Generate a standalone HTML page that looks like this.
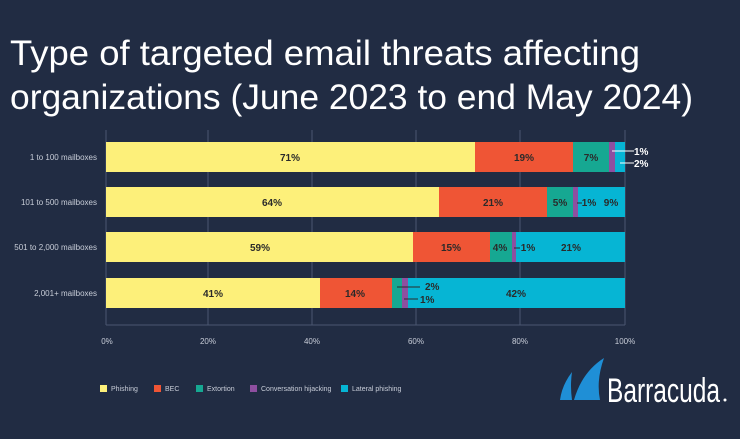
<!DOCTYPE html>
<html><head><style>
body{margin:0;width:740px;height:434px;background:#212c43;overflow:hidden;font-family:"Liberation Sans",sans-serif}
</style></head><body>
<svg width="740" height="434" xmlns="http://www.w3.org/2000/svg" font-family="Liberation Sans, sans-serif">
<rect width="740" height="434" fill="#212c43"/>
<text x="10" y="65" fill="#fff" font-size="35" textLength="630" lengthAdjust="spacingAndGlyphs">Type of targeted email threats affecting</text>
<text x="10" y="109" fill="#fff" font-size="35" textLength="683" lengthAdjust="spacingAndGlyphs">organizations (June 2023 to end May 2024)</text>
<g stroke="#4a5670" stroke-width="1">
<line x1="208" y1="130" x2="208" y2="325"/><line x1="312" y1="130" x2="312" y2="325"/>
<line x1="416" y1="130" x2="416" y2="325"/><line x1="520" y1="130" x2="520" y2="325"/>
<line x1="625" y1="130" x2="625" y2="325"/>
<line x1="106" y1="130" x2="106" y2="325"/><line x1="106" y1="325" x2="625" y2="325"/>
</g>
<g font-size="8" fill="#c8cdd8" text-anchor="end">
<text x="97" y="160">1 to 100 mailboxes</text>
<text x="97" y="205">101 to 500 mailboxes</text>
<text x="97" y="250">501 to 2,000 mailboxes</text>
<text x="97" y="296">2,001+ mailboxes</text>
</g>
<g font-size="8" fill="#c8cdd8" text-anchor="middle">
<text x="107" y="344">0%</text><text x="208" y="344">20%</text><text x="312" y="344">40%</text>
<text x="416" y="344">60%</text><text x="520" y="344">80%</text><text x="625" y="344">100%</text>
</g>
<rect x="106" y="142" width="369" height="30" fill="#fdf07a"/>
<rect x="475" y="142" width="98" height="30" fill="#ef5535"/>
<rect x="573" y="142" width="36" height="30" fill="#16a892"/>
<rect x="609" y="142" width="6" height="30" fill="#8e4fa0"/>
<rect x="615" y="142" width="10" height="30" fill="#06b5d4"/>
<rect x="106" y="187" width="333" height="30" fill="#fdf07a"/>
<rect x="439" y="187" width="108" height="30" fill="#ef5535"/>
<rect x="547" y="187" width="26" height="30" fill="#16a892"/>
<rect x="573" y="187" width="5" height="30" fill="#8e4fa0"/>
<rect x="578" y="187" width="47" height="30" fill="#06b5d4"/>
<rect x="106" y="232" width="307" height="30" fill="#fdf07a"/>
<rect x="413" y="232" width="77" height="30" fill="#ef5535"/>
<rect x="490" y="232" width="22" height="30" fill="#16a892"/>
<rect x="512" y="232" width="4" height="30" fill="#8e4fa0"/>
<rect x="516" y="232" width="109" height="30" fill="#06b5d4"/>
<rect x="106" y="278" width="214" height="30" fill="#fdf07a"/>
<rect x="320" y="278" width="72" height="30" fill="#ef5535"/>
<rect x="392" y="278" width="10" height="30" fill="#16a892"/>
<rect x="402" y="278" width="6" height="30" fill="#8e4fa0"/>
<rect x="408" y="278" width="217" height="30" fill="#06b5d4"/>
<g font-size="10" font-weight="bold" fill="#2a2a2a" text-anchor="middle">
<text x="290" y="161">71%</text><text x="524" y="161">19%</text><text x="591" y="161">7%</text>
<text x="272" y="206">64%</text><text x="493" y="206">21%</text><text x="560" y="206">5%</text><text x="589" y="206">1%</text><text x="611" y="206">9%</text>
<text x="260" y="251">59%</text><text x="451" y="251">15%</text><text x="500" y="251">4%</text><text x="528" y="251">1%</text><text x="571" y="251">21%</text>
<text x="213" y="297">41%</text><text x="355" y="297">14%</text><text x="516" y="297">42%</text>
<text x="425" y="290" text-anchor="start">2%</text><text x="420" y="303" text-anchor="start">1%</text>
</g>
<g stroke="#fff" stroke-width="1"><line x1="612" y1="151" x2="634" y2="151"/><line x1="620" y1="163" x2="634" y2="163"/></g>
<g stroke="#2a2a2a" stroke-width="1"><line x1="577" y1="203" x2="582" y2="203"/><line x1="514" y1="248" x2="520" y2="248"/><line x1="397" y1="287" x2="420" y2="287"/><line x1="404" y1="299" x2="418" y2="299"/></g>
<g font-size="10" font-weight="bold" fill="#fff"><text x="634" y="155">1%</text><text x="634" y="167">2%</text></g>
<g font-size="7" fill="#c8cdd8">
<rect x="100" y="385" width="7" height="7" fill="#fdf07a"/><text x="111" y="391">Phishing</text>
<rect x="154" y="385" width="7" height="7" fill="#ef5535"/><text x="165" y="391">BEC</text>
<rect x="196" y="385" width="7" height="7" fill="#16a892"/><text x="207" y="391">Extortion</text>
<rect x="250" y="385" width="7" height="7" fill="#8e4fa0"/><text x="261" y="391">Conversation hijacking</text>
<rect x="341" y="385" width="7" height="7" fill="#06b5d4"/><text x="352" y="391">Lateral phishing</text>
</g>
<path d="M572 372 Q562 385 560 400 L572 400 Q570 386 572 372Z" fill="#1f8fd6"/>
<path d="M604 358 Q582 372 574 400 L600 400 Q596 380 604 358Z" fill="#1f8fd6"/>
<text x="607" y="402" fill="#fff" font-size="34" textLength="113" lengthAdjust="spacingAndGlyphs">Barracuda</text>
<circle cx="725" cy="400" r="1.5" fill="#fff"/>
</svg>
</body></html>
